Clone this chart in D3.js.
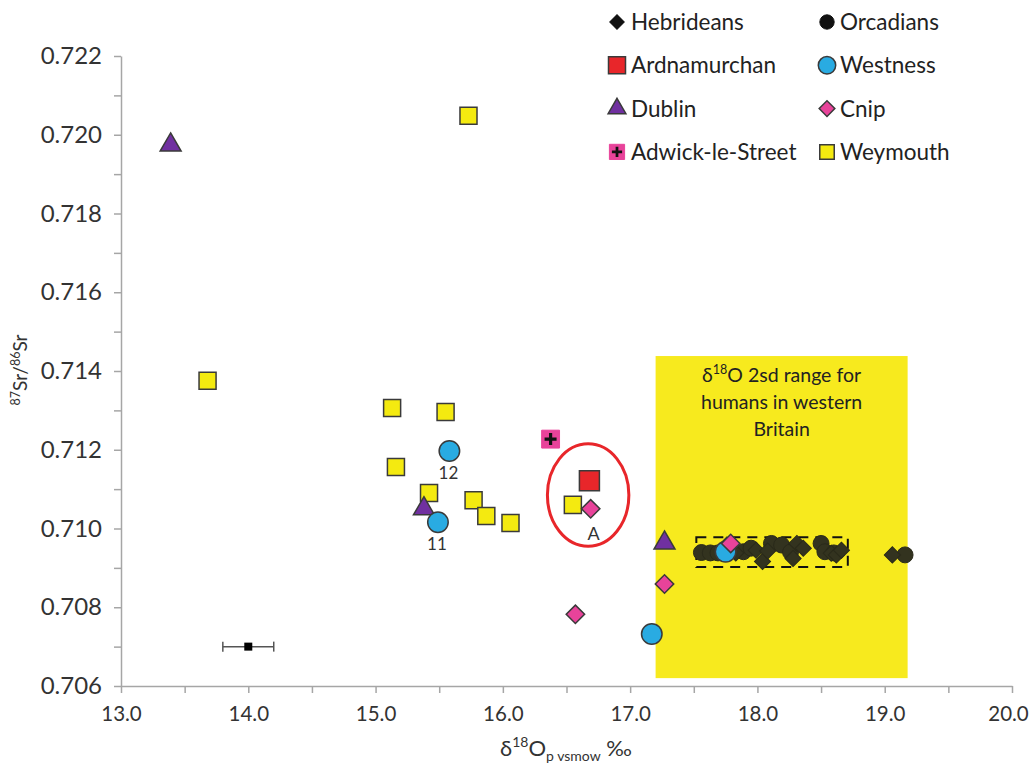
<!DOCTYPE html>
<html><head><meta charset="utf-8">
<script src="https://cdn.jsdelivr.net/npm/d3@7"></script>
<style>
body{margin:0;background:#fff;}
text{font-family:Lato,"Open Sans",sans-serif;}
</style></head>
<body><svg id="chart" width="1031" height="767"></svg>
<script>
// ---------- data ----------
const xTicks = [13,14,15,16,17,18,19,20];
const yTicks = [0.706,0.708,0.710,0.712,0.714,0.716,0.718,0.720,0.722];
const hebrideans = [[17.76,0.70958],[17.83,0.70938],[17.99,0.70945],[18.04,0.70916],[18.08,0.70943],[18.28,0.70924],[18.31,0.70962],[18.36,0.70950],[18.58,0.70937],[18.62,0.70933],[18.66,0.70945],[19.06,0.70933]];
const orcadians = [[17.56,0.70939],[17.63,0.70938],[17.69,0.70938],[17.89,0.70941],[17.95,0.70950],[18.11,0.70962],[18.19,0.70958],[18.26,0.70940],[18.50,0.70962],[18.53,0.70941],[18.60,0.70938],[19.16,0.70933]];
const ardnamurchan = [[16.68,0.71121]];
const westness = [[15.58,0.71197],[15.49,0.71016],[17.17,0.70732],[17.75,0.70941]];
const westnessLabels = ["12","11","",""];
const dublin = [[13.39,0.71974],[15.38,0.71050],[17.27,0.70963]];
const cnip = [[16.69,0.71050],[17.27,0.70859],[16.57,0.70782],[17.79,0.70962]];
const cnipLabels = ["A","","",""];
const adwick = [[16.375,0.71227]];
const weymouth = [[15.73,0.72048],[13.68,0.71375],[15.13,0.71306],[15.55,0.71296],[15.16,0.71156],[15.42,0.71090],[15.77,0.71072],[15.87,0.71032],[16.06,0.71014],[16.55,0.71060]];
const rangeBox = {x0:17.2, x1:19.18, y0:0.7062, y1:0.71438};
const rangeText = ["δ18O 2sd range for","humans in western","Britain"];
const clusterBox = {x0:17.52, x1:18.71, y0:0.70902, y1:0.70978};
const ellipseA = {cx:16.67, cy:0.71085, rx:0.32, ry:0.0013};
const errorBar = {x:14.0, y:0.707, err:0.2};
const legendItems = ["Hebrideans","Orcadians","Ardnamurchan","Westness","Dublin","Cnip","Adwick-le-Street","Weymouth"];

// ---------- layout ----------
const svg = d3.select("#chart");
const L=121, R=1012, T=56, B=686;
const x = d3.scaleLinear().domain([13,20]).range([L,R]);
const y = d3.scaleLinear().domain([0.706,0.722]).range([B,T]);
const axisColor="#a6a6a6", markStroke="#3a3a3a";

// yellow range box
svg.append("rect").attr("x",x(rangeBox.x0)).attr("y",y(rangeBox.y1))
  .attr("width",x(rangeBox.x1)-x(rangeBox.x0)).attr("height",y(rangeBox.y0)-y(rangeBox.y1))
  .attr("fill","#f7ea1e");
const rt = svg.append("text").attr("text-anchor","middle").attr("font-size",19.5).attr("fill","#222");
rangeText.forEach((t,i)=>{
  const ts = rt.append("tspan").attr("x",(x(rangeBox.x0)+x(rangeBox.x1))/2).attr("y",y(rangeBox.y1)+26+i*27);
  if(i===0){
    ts.text("δ");
    rt.append("tspan").attr("font-size",12.5).attr("dy",-8).text("18");
    rt.append("tspan").attr("dy",8).text("O 2sd range for");
  } else ts.text(t);
});

// axes
const yAxisVals = d3.range(0,17).map(i=>+(0.706+i*0.001).toFixed(3));
const yAxis = d3.axisLeft(y).tickValues(yAxisVals).tickSize(7).tickSizeOuter(0)
  .tickFormat(d=> yTicks.some(t=>Math.abs(t-d)<1e-9) ? d3.format(".3f")(d) : "");
const gy = svg.append("g").attr("transform",`translate(${L},0)`).call(yAxis);
gy.selectAll("path,line").attr("stroke",axisColor).attr("stroke-width",1.5);
gy.selectAll("text").attr("font-size",24).attr("fill","#333").attr("x",-19).attr("font-family","'Open Sans',sans-serif");

const xAxisVals = d3.range(0,15).map(i=>13+i*0.5);
const xAxis = d3.axisBottom(x).tickValues(xAxisVals).tickSize(7).tickSizeOuter(0)
  .tickFormat(d=> xTicks.includes(d) ? d3.format(".1f")(d) : "");
const gx = svg.append("g").attr("transform",`translate(0,${B})`).call(xAxis);
gx.selectAll("path,line").attr("stroke",axisColor).attr("stroke-width",1.5);
gx.selectAll("text").attr("font-size",20.5).attr("fill","#333").attr("y",20)
  .attr("dx",d=> d===20 ? -4 : 0);

// axis titles
const xt = svg.append("text").attr("x",566).attr("y",756).attr("text-anchor","middle").attr("font-size",22).attr("fill","#333");
xt.append("tspan").text("δ");
xt.append("tspan").attr("font-size",14).attr("dy",-9).text("18");
xt.append("tspan").attr("dy",9).text("O");
xt.append("tspan").attr("font-size",14).attr("dy",5).text("p vsmow");
xt.append("tspan").attr("dy",-5).text(" ‰");
const yt = svg.append("text").attr("transform","translate(27,370) rotate(-90)").attr("text-anchor","middle").attr("font-size",19).attr("fill","#333");
yt.append("tspan").attr("font-size",12.5).attr("dy",-7).text("87");
yt.append("tspan").attr("dy",7).text("Sr/");
yt.append("tspan").attr("font-size",12.5).attr("dy",-7).text("86");
yt.append("tspan").attr("dy",7).text("Sr");

// dashed cluster box
svg.append("rect").attr("x",x(clusterBox.x0)).attr("y",y(clusterBox.y1))
  .attr("width",x(clusterBox.x1)-x(clusterBox.x0)).attr("height",y(clusterBox.y0)-y(clusterBox.y1))
  .attr("fill","none").attr("stroke","#111").attr("stroke-width",2).attr("stroke-dasharray","10,7");

// red ellipse
svg.append("ellipse").attr("cx",x(ellipseA.cx)).attr("cy",y(ellipseA.cy))
  .attr("rx",x(ellipseA.cx+ellipseA.rx)-x(ellipseA.cx)).attr("ry",y(ellipseA.cy)-y(ellipseA.cy+ellipseA.ry))
  .attr("fill","none").attr("stroke","#e8262a").attr("stroke-width",3);

// error bar
const eb = svg.append("g");
eb.append("line").attr("x1",x(errorBar.x-errorBar.err)).attr("x2",x(errorBar.x+errorBar.err))
  .attr("y1",y(errorBar.y)).attr("y2",y(errorBar.y)).attr("stroke","#555").attr("stroke-width",1.5);
[errorBar.x-errorBar.err, errorBar.x+errorBar.err].forEach(v=>{
  eb.append("line").attr("x1",x(v)).attr("x2",x(v)).attr("y1",y(errorBar.y)-5).attr("y2",y(errorBar.y)+5).attr("stroke","#555").attr("stroke-width",1.5);
});
eb.append("rect").attr("x",x(errorBar.x)-4).attr("y",y(errorBar.y)-4).attr("width",8).attr("height",8).attr("fill","#000");

// marker helpers
function sym(type,size){return d3.symbol().type(type).size(size)();}
const styles = {
  Hebrideans:{type:d3.symbolSquare,size:130,rot:45,fill:"#33331f",stroke:"#2a2a1a",sw:1},
  Orcadians:{type:d3.symbolCircle,size:200,rot:0,fill:"#33331f",stroke:"#2a2a1a",sw:1},
  Ardnamurchan:{type:d3.symbolSquare,size:400,rot:0,fill:"#e8262a",stroke:markStroke,sw:1.5},
  Westness:{type:d3.symbolCircle,size:330,rot:0,fill:"#29abe2",stroke:markStroke,sw:1.5},
  Dublin:{type:d3.symbolTriangle,size:190,rot:0,fill:"#7030a0",stroke:markStroke,sw:1.5},
  Cnip:{type:d3.symbolSquare,size:170,rot:45,fill:"#e8439a",stroke:markStroke,sw:1.5},
  "Adwick-le-Street":{type:d3.symbolSquare,size:320,rot:0,fill:"#e8439a",stroke:"#e8439a",sw:1,cross:true},
  Weymouth:{type:d3.symbolSquare,size:290,rot:0,fill:"#f4ea10",stroke:markStroke,sw:1.5}
};
function drawMark(g,name,px,py,scale=1){
  const s=styles[name];
  g.append("path").attr("d",sym(s.type,s.size*scale*scale))
    .attr("transform",`translate(${px},${py}) rotate(${s.rot})`)
    .attr("fill",s.fill).attr("stroke",s.stroke).attr("stroke-width",s.sw);
  if(s.cross){
    const c=6*scale;
    g.append("path").attr("d",`M${px-c},${py}H${px+c}M${px},${py-c}V${py+c}`)
      .attr("stroke","#111").attr("stroke-width",3.2*scale);
  }
}
function series(data,name){
  const g=svg.append("g").attr("class","series-"+name);
  data.forEach(d=>drawMark(g,name,x(d[0]),y(d[1])));
}
series(orcadians,"Orcadians");
series(hebrideans,"Hebrideans");
series(weymouth,"Weymouth");
series(dublin,"Dublin");
series(westness,"Westness");
series(ardnamurchan,"Ardnamurchan");
series(cnip,"Cnip");
series(adwick,"Adwick-le-Street");

// point labels
westness.forEach((d,i)=>{ if(westnessLabels[i]) svg.append("text").attr("x",x(d[0])-1).attr("y",y(d[1])+28)
  .attr("text-anchor","middle").attr("font-size",17).attr("fill","#333").text(westnessLabels[i]);});
cnip.forEach((d,i)=>{ if(cnipLabels[i]) svg.append("text").attr("x",x(d[0])+3).attr("y",y(d[1])+31)
  .attr("text-anchor","middle").attr("font-size",18).attr("fill","#333").text(cnipLabels[i]);});

// legend
const lg = svg.append("g");
legendItems.forEach((name,i)=>{
  const col=i%2, row=Math.floor(i/2);
  const mx = col===0?617:827, my = 22+row*43.3;
  drawMark(lg,name,mx,my, name==="Hebrideans"||name==="Orcadians"?0.9:0.85);
  if(name==="Hebrideans"||name==="Orcadians"){ lg.select("path:last-child").attr("fill","#111").attr("stroke","#111"); }
  lg.append("text").attr("x",col===0?631:840).attr("y",my).attr("dy","0.36em")
    .attr("font-size",22.5).attr("fill","#222").text(name);
});
</script></body></html>
